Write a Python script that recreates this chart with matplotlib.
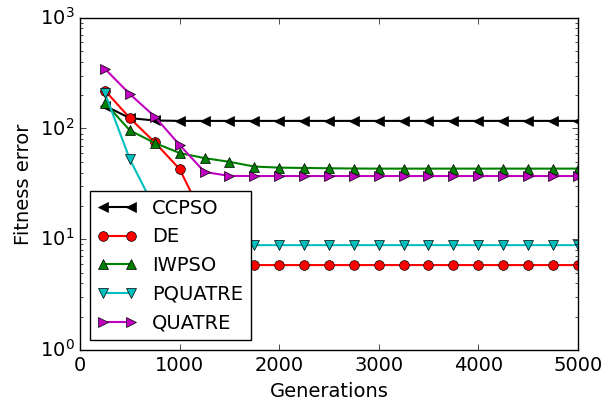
import numpy as np
import matplotlib
matplotlib.use("Agg")
import matplotlib.pyplot as plt

plt.style.use('classic')
plt.rcParams['font.family'] = ['DejaVu Sans']
plt.rcParams['font.size'] = 14

generations = [250, 500, 750, 1000, 1250, 1500, 1750, 2000, 2250, 2500,
               2750, 3000, 3250, 3500, 3750, 4000, 4250, 4500, 4750, 5000]

ccpso = [160, 124, 118, 117, 117, 117, 117, 117, 117, 117,
         117, 117, 117, 117, 117, 117, 117, 117, 117, 117]
de = [220, 124, 75, 43, 15, 7, 5.85, 5.85, 5.85, 5.85,
      5.85, 5.85, 5.85, 5.85, 5.85, 5.85, 5.85, 5.85, 5.85, 5.85]
iwpso = [170, 96, 74, 60, 54, 50, 45.3, 44.3, 44, 43.7,
         43.5, 43.4, 43.4, 43.4, 43.4, 43.4, 43.4, 43.4, 43.4, 43.4]
pquatre = [208, 52.7, 19, 10, 8.85, 8.85, 8.85, 8.85, 8.85, 8.85,
           8.85, 8.85, 8.85, 8.85, 8.85, 8.85, 8.85, 8.85, 8.85, 8.85]
quatre = [345, 204, 128, 71, 40.5, 37.3, 37.2, 37.2, 37.2, 37.2,
          37.2, 37.2, 37.2, 37.2, 37.2, 37.2, 37.2, 37.2, 37.2, 37.2]

series = [
    ("CCPSO", ccpso, 'k', '<'),
    ("DE", de, 'r', 'o'),
    ("IWPSO", iwpso, 'g', '^'),
    ("PQUATRE", pquatre, 'c', 'v'),
    ("QUATRE", quatre, 'm', '>'),
]

fig = plt.figure(figsize=(6.16, 4.01), dpi=100, facecolor='white')
ax = fig.add_axes([0.130, 0.127, 0.808, 0.829])

for name, vals, col, mk in series:
    ax.plot(generations, vals, color=col, marker=mk, markersize=7,
            linewidth=1.5, markeredgecolor='k', label=name)

ax.set_yscale('log')
ax.set_xlim(0, 5000)
ax.set_ylim(1, 1000)
ax.set_xlabel("Generations")
ax.set_ylabel("Fitness error")
ax.legend(loc='lower left', numpoints=2, fontsize=14)

fig.savefig('out.png', dpi=100, facecolor='white')
